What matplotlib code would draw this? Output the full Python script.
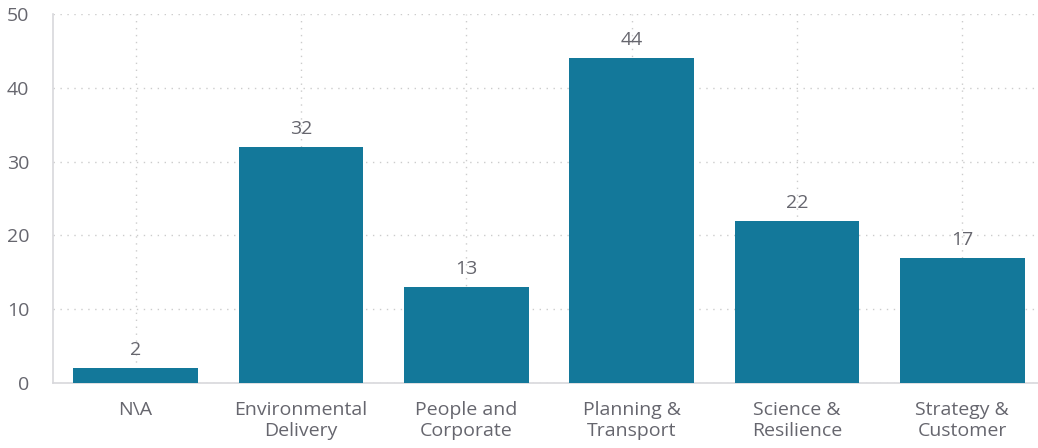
import matplotlib.pyplot as plt

plt.rcParams['font.family'] = ['Open Sans', 'DejaVu Sans']

categories = ["N\\A", "Environmental\nDelivery", "People and\nCorporate",
              "Planning &\nTransport", "Science &\nResilience", "Strategy &\nCustomer"]
counts = [2, 32, 13, 44, 22, 17]
yticks = [0, 10, 20, 30, 40, 50]

bar_color = "#13789a"
text_color = "#66666e"
grid_color = "#cccccc"

fig = plt.figure(figsize=(10.38, 4.48), dpi=100)
W, H = 1038, 448
ax = fig.add_axes([53 / W, 65 / H, (1045 - 53) / W, 369 / H])

x = range(len(categories))
bars = ax.bar(x, counts, width=0.756, color=bar_color, zorder=3)
for b, v in zip(bars, counts):
    ax.text(b.get_x() + b.get_width() / 2, v + 1.2, str(v), ha="center", va="bottom",
            fontsize=14, color=text_color, zorder=4)

ax.set_xlim(-0.5, len(categories) - 0.5)
ax.set_ylim(0, 50)
ax.set_yticks(yticks)
ax.set_xticks(list(x))
ax.set_xticklabels(categories, fontsize=14, color=text_color, linespacing=1.2)
ax.tick_params(axis="y", labelsize=14, labelcolor=text_color, length=0, pad=17)
ax.tick_params(axis="x", length=0, pad=13)

ax.grid(True, linestyle=(0, (1, 4)), color=grid_color, linewidth=1, zorder=0)
for side in ["top", "right"]:
    ax.spines[side].set_visible(False)
ax.spines["left"].set_color("#d8d8dc")
ax.spines["bottom"].set_color("#d8d8dc")
ax.spines["left"].set_linewidth(1.2)
ax.spines["bottom"].set_linewidth(1.2)

fig.savefig("out.png", dpi=100)
